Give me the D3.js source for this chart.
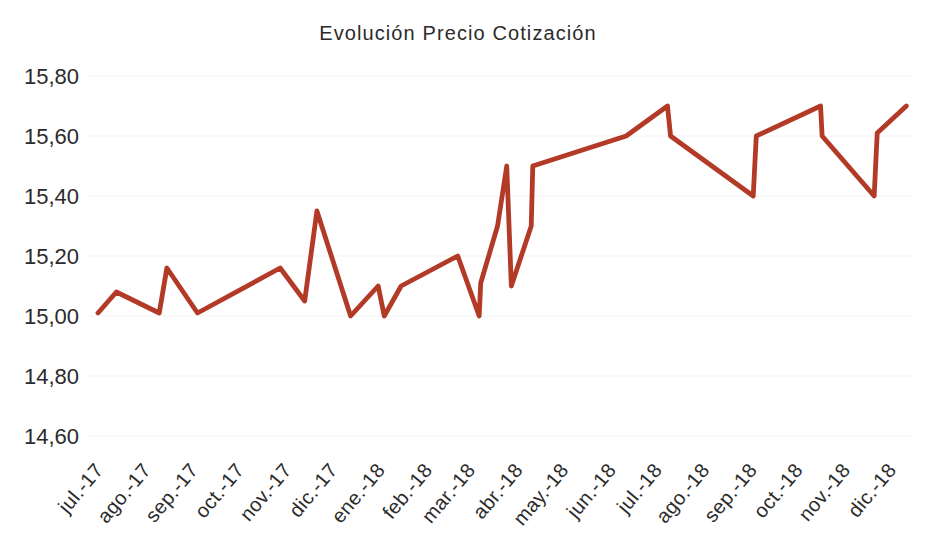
<!DOCTYPE html>
<html>
<head>
<meta charset="utf-8">
<script src="https://cdn.jsdelivr.net/npm/d3@7"></script>
<style>
  html, body { margin: 0; padding: 0; background: #fff; }
  svg { display: block; font-family: "Liberation Sans", Arial, sans-serif; }
</style>
</head>
<body>
<svg id="chart" width="939" height="534"></svg>
<script>
const title = "Evolución Precio Cotización";
const dates = [
  "2017-07-01","2017-07-13","2017-08-10","2017-08-15","2017-09-04","2017-10-28",
  "2017-11-13","2017-11-21","2017-12-13","2017-12-31","2018-01-04","2018-01-15",
  "2018-02-21","2018-03-07","2018-03-08","2018-03-19","2018-03-25","2018-03-28",
  "2018-04-10","2018-04-11","2018-06-11","2018-07-08","2018-07-10","2018-09-02",
  "2018-09-04","2018-10-16","2018-10-17","2018-11-20","2018-11-22","2018-12-11"
];
const prices = [
  15.01, 15.08, 15.01, 15.16, 15.01, 15.16,
  15.05, 15.35, 15.00, 15.10, 15.00, 15.10,
  15.20, 15.00, 15.11, 15.30, 15.50, 15.10,
  15.30, 15.50, 15.60, 15.70, 15.60, 15.40,
  15.60, 15.70, 15.60, 15.40, 15.61, 15.70
];
const yTicks = [14.6, 14.8, 15.0, 15.2, 15.4, 15.6, 15.8];
const monthLabels = ["jul.-17","ago.-17","sep.-17","oct.-17","nov.-17","dic.-17",
  "ene.-18","feb.-18","mar.-18","abr.-18","may.-18","jun.-18",
  "jul.-18","ago.-18","sep.-18","oct.-18","nov.-18","dic.-18"];

const parse = d3.utcParse("%Y-%m-%d");
const data = dates.map((d, i) => ({ date: parse(d), value: prices[i] }));
const monthTicks = monthLabels.map((_, i) => new Date(Date.UTC(2017, 6 + i, 1)));

const svg = d3.select("#chart");
const x = d3.scaleUtc()
  .domain([new Date(Date.UTC(2017, 6, 1)), new Date(Date.UTC(2018, 11, 1))])
  .range([98, 891]);
const y = d3.scaleLinear().domain([14.6, 15.8]).range([436, 76]);

// title
svg.append("text")
  .attr("x", 458).attr("y", 40)
  .attr("text-anchor", "middle")
  .attr("font-size", 20)
  .attr("letter-spacing", "1.1px")
  .attr("fill", "#2b2b2b")
  .text(title);

// gridlines
svg.append("g").selectAll("line").data(yTicks).join("line")
  .attr("x1", 88).attr("x2", 912)
  .attr("y1", d => y(d)).attr("y2", d => y(d))
  .attr("stroke", "#f3f3f3").attr("stroke-width", 1);

// y axis labels
const fmt = d => d3.format(".2f")(d).replace(".", ",");
svg.append("g").selectAll("text").data(yTicks).join("text")
  .attr("x", 79).attr("y", d => y(d))
  .attr("dy", "0.36em")
  .attr("text-anchor", "end")
  .attr("font-size", 22)
  .attr("fill", "#2b2b2b")
  .text(fmt);

// x axis labels
svg.append("g").selectAll("text").data(monthTicks).join("text")
  .attr("text-anchor", "end")
  .attr("font-size", 20)
  .attr("letter-spacing", "0.4px")
  .attr("dy", "0.35em")
  .attr("fill", "#2b2b2b")
  .attr("transform", d => `translate(${x(d) + 1},${466}) rotate(-50)`)
  .text((d, i) => monthLabels[i]);

// line
const line = d3.line().x(d => x(d.date)).y(d => y(d.value));
svg.append("path")
  .datum(data)
  .attr("d", line)
  .attr("fill", "none")
  .attr("stroke", "#b23a26")
  .attr("stroke-width", 4.8)
  .attr("stroke-linejoin", "round")
  .attr("stroke-linecap", "round");
</script>
</body>
</html>
